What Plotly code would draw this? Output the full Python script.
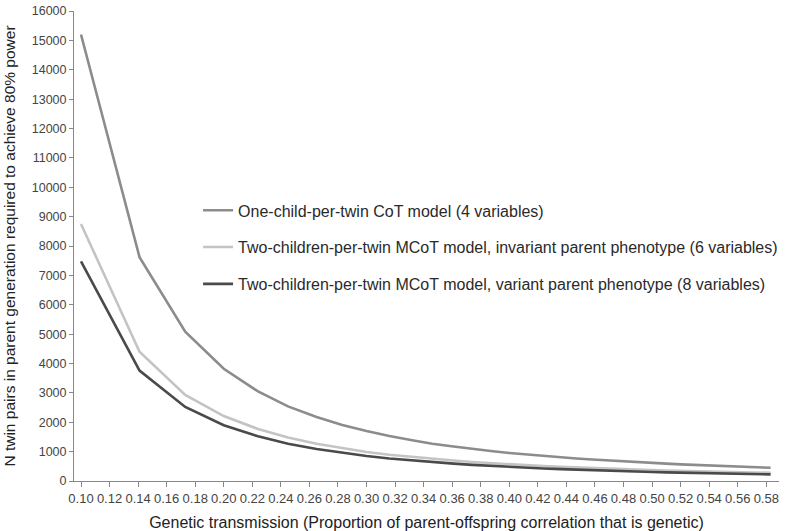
import plotly.graph_objects as go

# Genetic transmission values (x)
x_vals = [0.100, 0.141, 0.173, 0.200, 0.224, 0.245, 0.265, 0.283, 0.300, 0.316,
          0.332, 0.346, 0.361, 0.374, 0.387, 0.400, 0.412, 0.424, 0.436, 0.447,
          0.458, 0.469, 0.480, 0.490, 0.500, 0.510, 0.520, 0.529, 0.539, 0.548,
          0.557, 0.566, 0.574, 0.583]

one_child_cot = [15200, 7620, 5080, 3820, 3050, 2540, 2180, 1910, 1700, 1530,
                 1390, 1270, 1175, 1090, 1020, 955, 900, 850, 805, 765,
                 730, 695, 665, 640, 615, 590, 565, 545, 525, 510,
                 495, 480, 465, 450]

two_child_invariant = [8750, 4400, 2930, 2210, 1770, 1480, 1270, 1115, 990, 895,
                       815, 750, 695, 645, 605, 568, 535, 506, 480, 457,
                       436, 417, 400, 384, 369, 356, 344, 332, 321, 311,
                       302, 293, 285, 277]

two_child_variant = [7480, 3760, 2520, 1900, 1520, 1270, 1090, 955, 850, 765,
                     695, 640, 590, 548, 512, 480, 452, 427, 404, 384,
                     366, 349, 334, 320, 307, 295, 284, 274, 264, 255,
                     247, 239, 232, 225]

series_names = [
    "One-child-per-twin CoT model (4 variables)",
    "Two-children-per-twin MCoT model, invariant parent phenotype (6 variables)",
    "Two-children-per-twin MCoT model, variant parent phenotype (8 variables)",
]
series_values = [one_child_cot, two_child_invariant, two_child_variant]
series_colors = ["#8c8c8c", "#c4c4c4", "#4a4a4a"]

x_tick_vals = [round(0.10 + 0.02 * i, 2) for i in range(25)]
x_tick_text = [f"{v:.2f}" for v in x_tick_vals]
y_tick_vals = list(range(0, 16001, 1000))
y_tick_text = [str(v) for v in y_tick_vals]

fig = go.Figure()
for i, (name, vals, col) in enumerate(zip(series_names, series_values, series_colors)):
    fig.add_trace(go.Scatter(
        x=x_vals, y=vals, mode="lines", name=name,
        line=dict(color=col, width=2.6),
        legendgroup=f"g{i}",
    ))

font_family = "Liberation Sans, Arial, sans-serif"
fig.update_layout(
    width=787, height=531,
    margin=dict(l=74, r=4, t=11, b=50),
    paper_bgcolor="white", plot_bgcolor="white",
    font=dict(family=font_family, color="#333333"),
    showlegend=True,
    legend=dict(
        x=0.176, y=0.612, xanchor="left", yanchor="top",
        font=dict(size=16, color="#2a2a2a", family=font_family),
        bgcolor="rgba(0,0,0,0)", tracegroupgap=13,
    ),
    xaxis=dict(
        range=[0.0951, 0.5889],
        tickmode="array", tickvals=x_tick_vals, ticktext=x_tick_text,
        showgrid=False, zeroline=False,
        showline=True, linecolor="#888888", linewidth=1,
        ticks="outside", ticklen=5, tickcolor="#888888",
        tickfont=dict(size=13, color="#444444"),
        title=dict(text="Genetic transmission (Proportion of parent-offspring correlation that is genetic)",
                   font=dict(size=16, color="#222222"), standoff=12),
        automargin=False,
    ),
    yaxis=dict(
        range=[0, 16000],
        tickmode="array", tickvals=y_tick_vals, ticktext=y_tick_text,
        showgrid=False, zeroline=False,
        showline=True, linecolor="#888888", linewidth=1,
        ticks="outside", ticklen=4, tickcolor="#888888",
        tickfont=dict(size=12.5, color="#444444"),
        title=dict(text="N twin pairs in parent generation required to achieve 80% power",
                   font=dict(size=15.5, color="#222222"), standoff=12),
        automargin=False,
    ),
)

fig.write_html("out.html", config={"displayModeBar": False},
               post_script="document.body.style.margin='0';")
